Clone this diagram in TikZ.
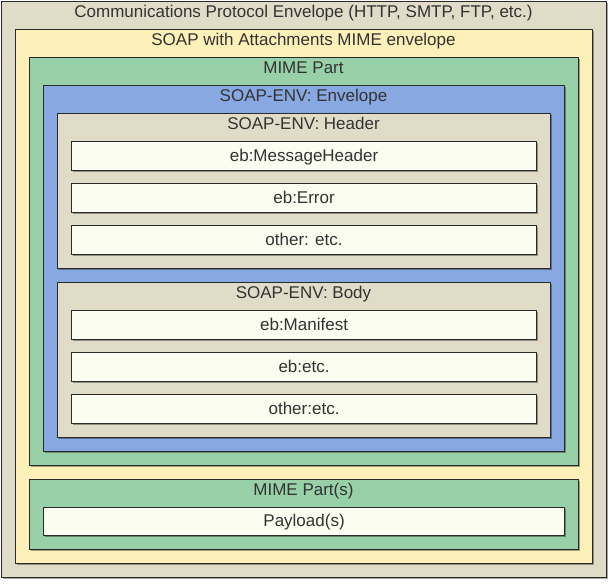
\documentclass[tikz,border=0pt]{standalone}
\usepackage{fontspec}
\setmainfont{Liberation Sans}
\usetikzlibrary{shadows}
\definecolor{cBeige}{HTML}{E0DCC8}
\definecolor{cYellow}{HTML}{FDF0B8}
\definecolor{cGreen}{HTML}{98D1A8}
\definecolor{cBlue}{HTML}{87A8E0}
\definecolor{cWhite}{HTML}{FBFDF0}
\definecolor{cLine}{HTML}{2A2A2A}
\definecolor{cText}{HTML}{333333}
\tikzset{
  box/.style={draw=cLine, line width=1.1pt, rectangle, inner sep=0pt, anchor=north west,
    drop shadow={shadow xshift=1.6pt, shadow yshift=-1.6pt, opacity=0.35, fill=black}},
  ttl/.style={font=\fontsize{17}{19}\selectfont, text=cText, inner sep=0pt, anchor=base},
}
\newcommand{\bx}[7]{% name, fill, x1, y1, x2, y2, text
  \pgfmathsetmacro{\bw}{#5-#3}\pgfmathsetmacro{\bh}{#6-#4}
  \node[box, fill=#2, minimum width=\bw pt, minimum height=\bh pt] (#1) at (#3,#4) {};
}
\begin{document}
\begin{tikzpicture}[x=1pt,y=-1pt]
\useasboundingbox (0,0) rectangle (614,586);
\bx{comm}{cBeige}{1}{1}{606}{577}{}
\node[ttl] (commT) at (303.5,17.4) {Communications Protocol Envelope (HTTP, SMTP, FTP, etc.)};
\bx{swa}{cYellow}{15}{29}{592}{563}{}
\node[ttl] (swaT) at (303.5,45.5) {SOAP with Attachments MIME envelope};
\bx{mime}{cGreen}{29}{57}{578}{465}{}
\node[ttl] (mimeT) at (303.5,73.5) {MIME Part};
\bx{env}{cBlue}{43}{85}{564}{451}{}
\node[ttl] (envT) at (303.5,101.5) {SOAP-ENV: Envelope};
\bx{hdr}{cBeige}{57}{113}{550}{268}{}
\node[ttl] (hdrT) at (303.5,129.5) {SOAP-ENV: Header};
\bx{h1}{cWhite}{71}{141}{536}{170}{}
\node[ttl] (h1T) at ([yshift=-5.2pt]h1.center) {eb:MessageHeader};
\bx{h2}{cWhite}{71}{183}{536}{212}{}
\node[ttl] (h2T) at ([yshift=-5.2pt]h2.center) {eb:Error};
\bx{h3}{cWhite}{71}{225}{536}{254}{}
\node[ttl] (h3T) at ([yshift=-5.2pt]h3.center) {other: etc.};
\bx{bdy}{cBeige}{57}{282}{550}{437}{}
\node[ttl] (bdyT) at (303.5,298.5) {SOAP-ENV: Body};
\bx{b1}{cWhite}{71}{310}{536}{339}{}
\node[ttl] (b1T) at ([yshift=-5.2pt]b1.center) {eb:Manifest};
\bx{b2}{cWhite}{71}{352}{536}{381}{}
\node[ttl] (b2T) at ([yshift=-5.2pt]b2.center) {eb:etc.};
\bx{b3}{cWhite}{71}{394}{536}{423}{}
\node[ttl] (b3T) at ([yshift=-5.2pt]b3.center) {other:etc.};
\bx{mps}{cGreen}{29}{479}{578}{549}{}
\node[ttl] (mpsT) at (303.5,495.5) {MIME Part(s)};
\bx{pay}{cWhite}{43}{507}{564}{535}{}
\node[ttl] (payT) at ([yshift=-5.2pt]pay.center) {Payload(s)};
\end{tikzpicture}
\end{document}
